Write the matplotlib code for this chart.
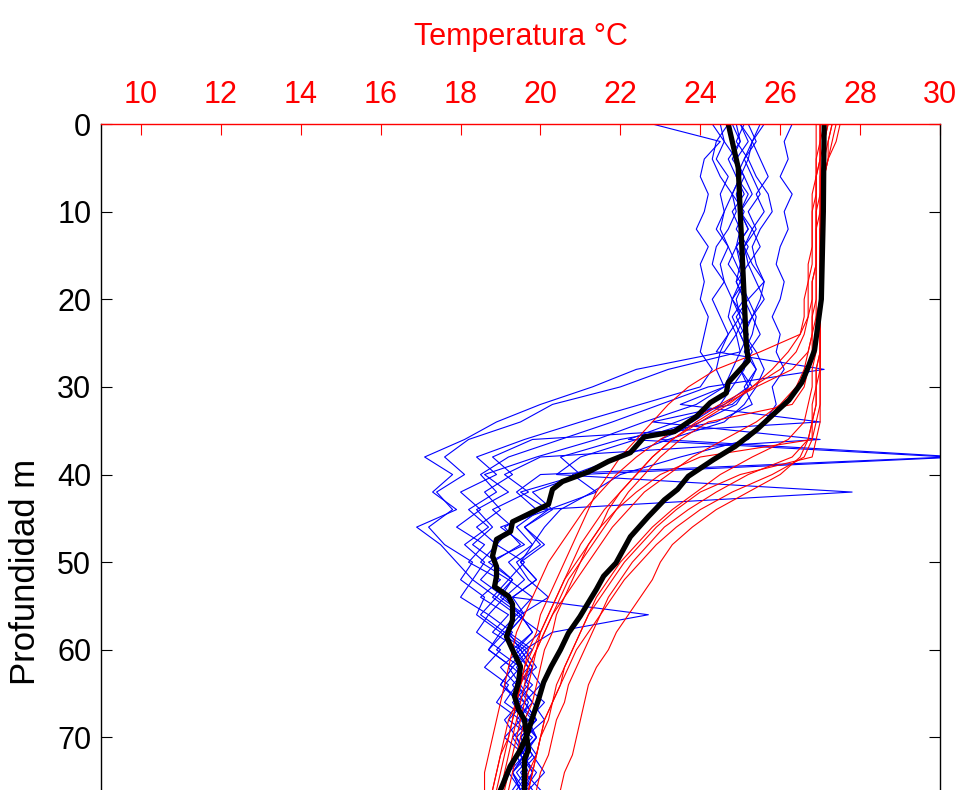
import numpy as np
import matplotlib
matplotlib.use("Agg")
from matplotlib import pyplot as plt

plt.rcParams['font.family'] = ['Liberation Sans Narrow', 'Liberation Sans', 'DejaVu Sans']

# profundidades (m) de los perfiles individuales
prof = np.arange(0, 78, 2)

# perfiles azules (T en grados C)
azules = [
    [24.9, 25.0, 24.8, 25.1, 24.9, 25.0, 25.2, 24.9, 25.0, 25.1, 24.9, 25.0, 25.2, 25.0, 23.2, 22.0, 20.3, 19.5, 18.2, 17.6,
     18.1, 17.4, 17.8, 17.2, 17.6, 18.3, 18.0, 18.6, 18.4, 19.0, 18.7, 19.3, 19.0, 19.6, 19.2, 19.8, 19.4, 19.6, 19.3],
    [22.8, 24.5, 24.1, 24.0, 24.2, 24.1, 23.9, 24.2, 24.0, 24.1, 24.0, 24.2, 24.1, 24.0, 24.3, 24.0, 22.5, 21.0, 19.6, 18.4,
     18.9, 18.0, 18.5, 17.9, 18.6, 18.2, 19.0, 18.5, 19.2, 18.8, 19.5, 19.0, 19.4, 19.1, 19.7, 19.3, 19.6, 19.2, 19.5],
    [26.3, 26.1, 26.2, 26.0, 26.3, 26.1, 26.2, 26.0, 25.9, 26.1, 26.0, 25.8, 26.0, 25.9, 26.1, 25.8, 25.9, 25.6, 25.2, 23.5,
     22.0, 21.3, 20.5, 20.1, 19.8, 19.5, 19.9, 19.3, 19.6, 19.2, 19.5, 19.8, 19.4, 19.7, 19.5, 19.9, 19.6, 19.8, 19.5],
    [24.5, 24.6, 24.9, 25.0, 24.8, 24.6, 24.5, 24.7, 24.9, 25.1, 24.8, 24.7, 24.9, 25.0, 24.8, 24.6, 23.5, 27.0, 19.8, 18.8,
     19.3, 18.6, 19.0, 18.4, 18.9, 18.5, 19.2, 18.8, 19.4, 19.0, 19.6, 19.2, 19.5, 19.8, 19.4, 19.7, 19.5, 19.9, 19.6],
    [25.2, 25.4, 25.1, 25.3, 25.5, 25.2, 25.4, 25.1, 25.3, 25.6, 25.2, 25.4, 25.3, 25.1, 25.4, 25.2, 24.9, 24.0, 23.0, 30.5,
     21.0, 19.5, 20.2, 19.0, 19.6, 18.7, 19.3, 18.9, 19.5, 19.1, 19.7, 19.3, 19.8, 19.4, 19.9, 19.5, 19.7, 19.6, 20.0],
    [25.0, 25.3, 25.1, 24.9, 25.2, 25.0, 25.3, 25.1, 25.2, 24.9, 25.1, 25.3, 25.0, 25.2, 25.1, 24.8, 24.5, 23.8, 22.4, 21.0,
     20.4, 27.8, 20.0, 19.4, 19.8, 19.2, 19.6, 19.1, 19.5, 19.8, 19.4, 19.7, 19.3, 19.6, 19.9, 19.5, 19.8, 19.4, 19.7],
    [24.8, 25.0, 24.7, 24.9, 25.1, 24.8, 25.0, 24.9, 24.7, 25.0, 24.8, 25.1, 24.9, 24.6, 22.4, 21.3, 20.0, 18.9, 18.1, 17.1,
     17.8, 17.3, 17.9, 16.9, 17.5, 17.9, 18.3, 18.0, 18.7, 18.4, 19.0, 18.6, 19.2, 18.9, 19.5, 19.1, 19.6, 19.3, 19.5],
    [25.5, 25.3, 25.2, 25.4, 25.7, 25.8, 25.5, 25.3, 25.4, 25.6, 25.5, 25.3, 25.1, 25.4, 25.6, 25.4, 25.1, 24.6, 23.2, 22.0,
     20.8, 21.4, 20.2, 19.6, 20.1, 19.5, 19.9, 19.3, 22.7, 20.3, 19.6, 19.9, 19.4, 19.8, 20.1, 19.6, 19.9, 19.5, 19.8],
    [24.3, 24.6, 24.4, 24.7, 24.5, 24.6, 24.4, 24.7, 24.5, 24.6, 24.3, 24.5, 24.7, 24.4, 27.1, 24.2, 23.0, 21.8, 20.5, 19.2,
     18.5, 18.9, 18.2, 18.7, 18.1, 18.6, 18.3, 18.9, 18.5, 19.1, 18.7, 19.3, 19.0, 19.5, 19.1, 19.4, 19.7, 19.3, 19.6],
    [25.1, 24.9, 25.2, 25.0, 24.8, 25.1, 24.9, 25.2, 25.0, 24.9, 25.1, 24.8, 25.0, 25.2, 25.0, 25.3, 24.8, 22.8, 27.0, 20.0,
     19.1, 19.7, 18.8, 19.3, 18.9, 19.6, 19.2, 19.8, 19.4, 20.0, 19.5, 19.8, 19.6, 20.1, 19.7, 19.9, 19.5, 19.8, 19.6],
    [25.6, 25.3, 25.5, 25.7, 25.4, 25.6, 25.3, 25.5, 25.2, 25.4, 25.6, 25.3, 25.5, 25.2, 25.4, 25.1, 25.3, 24.4, 22.0, 20.5,
     21.0, 19.8, 20.3, 19.6, 20.0, 19.4, 19.7, 20.2, 19.5, 19.8, 19.3, 19.7, 20.0, 19.6, 19.9, 19.5, 19.8, 20.1, 19.7],
    [24.7, 24.4, 24.3, 24.5, 24.8, 24.9, 24.7, 24.4, 24.3, 24.6, 24.8, 25.0, 24.7, 24.5, 24.4, 24.6, 23.9, 22.6, 21.4, 19.9,
     18.6, 19.2, 18.4, 18.8, 18.3, 18.9, 18.5, 19.1, 18.7, 19.3, 18.9, 19.5, 19.1, 19.4, 19.8, 19.4, 19.6, 19.3, 19.5],
    [25.0, 25.2, 24.9, 25.1, 25.3, 25.0, 25.2, 24.9, 25.1, 25.0, 25.2, 24.9, 25.1, 25.3, 25.0, 25.2, 24.6, 23.4, 22.2, 30.2,
     20.0, 19.4, 19.9, 19.1, 19.5, 18.8, 19.3, 19.0, 19.6, 19.2, 19.8, 19.4, 19.7, 19.3, 19.6, 19.9, 19.5, 19.7, 19.4],
]

# perfiles rojos
rojos = [
    [27.0, 27.0, 26.9, 26.9, 26.9, 26.8, 26.8, 26.8, 26.7, 26.7, 26.6, 26.6, 26.5, 25.5, 24.4, 23.7, 23.2, 22.8, 22.4, 22.0,
     21.7, 21.4, 21.2, 21.0, 20.8, 20.6, 20.4, 20.2, 20.0, 19.9, 19.7, 19.6, 19.5, 19.4, 19.3, 19.2, 19.0, 18.9, 18.8],
    [27.1, 27.1, 27.0, 27.0, 27.0, 27.0, 26.9, 26.9, 26.9, 26.8, 26.8, 26.7, 26.5, 26.2, 25.8, 25.3, 24.7, 24.0, 23.3, 22.8,
     22.4, 22.0, 21.7, 21.5, 21.2, 21.0, 20.8, 20.6, 20.4, 20.3, 20.1, 20.0, 19.9, 19.8, 19.6, 19.5, 19.4, 19.3, 19.2],
    [27.3, 27.2, 27.2, 27.1, 27.1, 27.1, 27.0, 27.0, 27.0, 27.0, 27.0, 27.0, 27.0, 27.0, 27.0, 26.9, 26.9, 26.8, 26.7, 26.5,
     26.0, 25.2, 24.4, 23.8, 23.3, 23.0, 22.8, 22.5, 22.2, 21.9, 21.7, 21.4, 21.2, 21.1, 21.0, 20.9, 20.8, 20.6, 20.5],
    [27.4, 27.3, 27.2, 27.1, 27.1, 27.0, 27.0, 27.0, 27.0, 27.0, 27.0, 26.9, 26.9, 26.9, 26.8, 26.8, 26.7, 26.6, 26.2, 25.3,
     24.5, 23.9, 23.3, 22.8, 22.4, 22.0, 21.7, 21.4, 21.2, 21.0, 20.8, 20.6, 20.5, 20.3, 20.2, 20.0, 19.9, 19.8, 19.7],
    [27.0, 27.0, 27.0, 26.9, 26.9, 26.9, 26.9, 26.9, 26.9, 26.8, 26.8, 26.8, 26.8, 26.7, 26.3, 25.4, 24.6, 23.9, 23.3, 22.8,
     22.4, 22.0, 21.6, 21.3, 21.0, 20.8, 20.6, 20.4, 20.2, 20.0, 19.8, 19.6, 19.5, 19.4, 19.2, 19.1, 19.0, 18.9, 18.8],
    [27.2, 27.1, 27.1, 27.1, 27.0, 27.0, 27.0, 27.0, 27.0, 27.0, 27.0, 27.0, 27.0, 27.0, 27.0, 27.0, 27.0, 26.9, 26.8, 24.0,
     23.0, 22.4, 21.9, 21.5, 21.2, 20.9, 20.6, 20.4, 20.2, 20.0, 19.9, 19.7, 19.6, 19.5, 19.4, 19.3, 19.2, 19.1, 19.0],
    [27.1, 27.0, 27.0, 27.0, 27.0, 26.9, 26.9, 26.9, 26.9, 26.9, 26.9, 26.9, 26.8, 26.8, 26.7, 26.6, 26.3, 24.2, 23.5, 23.0,
     22.6, 22.2, 21.9, 21.6, 21.3, 21.0, 20.7, 20.5, 20.3, 20.1, 19.9, 19.8, 19.7, 19.6, 19.5, 19.4, 19.3, 19.2, 19.1],
    [26.9, 26.9, 26.9, 26.9, 26.8, 26.8, 26.8, 26.8, 26.8, 26.7, 26.7, 26.7, 26.6, 26.4, 26.0, 25.3, 24.5, 23.7, 23.0, 22.4,
     21.9, 21.5, 21.1, 20.8, 20.5, 20.2, 20.0, 19.8, 19.6, 19.4, 19.3, 19.2, 19.1, 19.0, 18.9, 18.8, 18.7, 18.6, 18.6],
    [27.5, 27.4, 27.2, 27.1, 27.1, 27.1, 27.0, 27.0, 27.0, 27.0, 27.0, 27.0, 27.0, 27.0, 26.9, 26.9, 26.9, 26.8, 26.8, 26.6,
     25.8, 24.8, 24.0, 23.4, 22.9, 22.5, 22.1, 21.8, 21.5, 21.2, 20.9, 20.7, 20.5, 20.3, 20.1, 20.0, 19.9, 19.7, 19.6],
    [27.2, 27.1, 27.1, 27.0, 27.0, 27.0, 27.0, 27.0, 27.0, 27.0, 27.0, 27.0, 27.0, 27.0, 26.9, 26.9, 26.8, 26.8, 26.7, 26.3,
     25.2, 24.4, 23.7, 23.1, 22.7, 22.3, 22.0, 21.7, 21.5, 21.3, 21.1, 20.9, 20.7, 20.6, 20.4, 20.3, 20.2, 20.0, 19.9],
    [27.0, 27.0, 27.0, 26.9, 26.9, 26.9, 26.9, 26.9, 26.9, 26.9, 26.9, 26.8, 26.8, 26.7, 26.6, 26.4, 26.0, 25.4, 24.6, 23.8,
     23.2, 22.6, 22.2, 21.8, 21.5, 21.2, 20.9, 20.6, 20.3, 20.1, 19.9, 19.7, 19.5, 19.4, 19.3, 19.2, 19.1, 19.0, 18.9],
    [27.3, 27.2, 27.1, 27.1, 27.1, 27.1, 27.1, 27.1, 27.0, 27.0, 27.0, 27.0, 27.0, 27.0, 27.0, 27.0, 27.0, 27.0, 26.9, 26.8,
     25.0, 24.0, 23.4, 22.9, 22.5, 22.1, 21.8, 21.5, 21.2, 21.0, 20.8, 20.6, 20.4, 20.3, 20.1, 20.0, 19.9, 19.8, 19.7],
]

# perfiles medios (lineas negras)
prof_media_az = [0, 5, 10, 20, 25, 27, 29.5, 30.7, 31.8, 33.4, 35.1, 35.7, 37.5, 38.5, 39.7, 40.8, 41.7, 43.4, 44.4, 45.4,
                 46.5, 47.4, 49.3, 50.5, 51.6, 52.8, 53.9, 54.8, 56.6, 58.5, 60.0, 61.9, 63.7, 65.3, 66.8, 68.0, 71.4, 72.5, 76.0]
media_az = [24.7, 24.95, 25.0, 25.1, 25.15, 25.2, 24.7, 24.65, 24.25, 23.9, 23.35, 22.6, 22.25, 21.7, 21.2, 20.55, 20.3, 20.2, 19.75, 19.3,
            19.25, 18.9, 18.8, 18.9, 18.9, 18.85, 19.2, 19.3, 19.3, 19.15, 19.3, 19.5, 19.45, 19.35, 19.45, 19.6, 19.7, 19.6, 19.6]
prof_media_ro = [0, 10, 20, 25.8, 28, 29.5, 31.5, 33, 34.9, 36.8, 38.3, 40.2, 41.7, 42.9, 44.8, 47.1, 48.6, 50.1, 51.6, 53.1,
                 54.6, 56.2, 58.1, 60.0, 61.9, 63.7, 65.7, 67.6, 69.5, 71.4, 73.3, 76.0]
media_ro = [27.1, 27.08, 27.03, 26.86, 26.68, 26.54, 26.22, 25.86, 25.41, 24.87, 24.33, 23.7, 23.43, 23.1, 22.7, 22.25, 22.07, 21.89, 21.58, 21.4,
            21.2, 20.99, 20.7, 20.5, 20.27, 20.08, 19.95, 19.81, 19.68, 19.5, 19.24, 19.0]

fig = plt.figure(figsize=(9.6, 7.9), dpi=100)
ax = fig.add_axes([101 / 960, 0, 839 / 960, 666 / 790])

for t in azules:
    ax.plot(t, prof, color='blue', lw=0.8)
for t in rojos:
    ax.plot(t, prof, color='red', lw=0.8)
ax.plot(media_az, prof_media_az, color='black', lw=3.8)
ax.plot(media_ro, prof_media_ro, color='black', lw=3.8)

ax.set_xlim(9, 30)
ax.set_ylim(76, 0)
ax.set_xticks(range(10, 31, 2))
ax.set_yticks(range(0, 71, 10))

ax.xaxis.tick_top()
ax.xaxis.set_label_position('top')
ax.tick_params(axis='x', colors='red', direction='in', length=8, labelsize=22, pad=10)
ax.tick_params(axis='y', colors='black', direction='in', length=8, labelsize=22, pad=7, right=True)
ax.set_xlabel('Temperatura °C', color='red', fontsize=22, labelpad=25)
ax.set_ylabel('Profundidad m', fontsize=25)
ax.yaxis.set_label_coords(-0.070, 0.327)

ax.spines['top'].set_color('red')
ax.spines['bottom'].set_visible(False)
for s in ax.spines.values():
    s.set_linewidth(1.0)

fig.savefig('out.png', dpi=100)
